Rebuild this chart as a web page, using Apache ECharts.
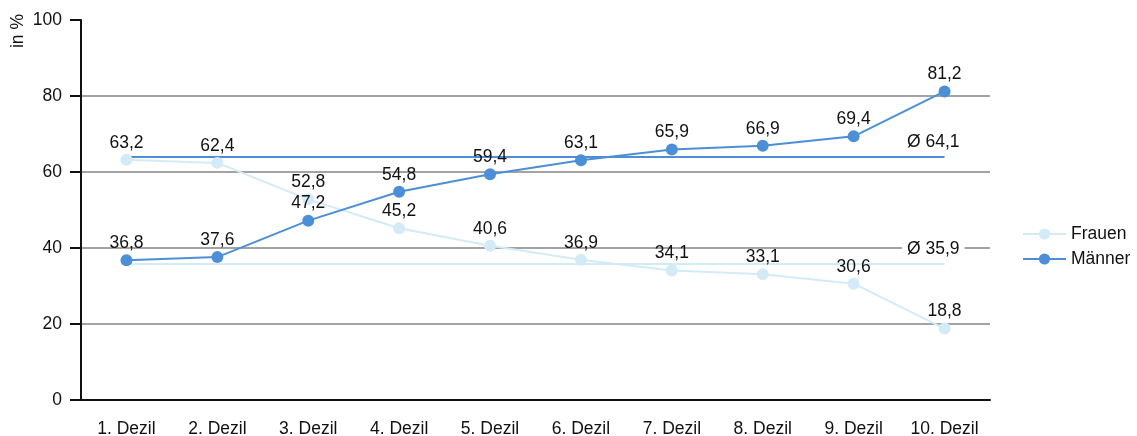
<!DOCTYPE html>
<html>
<head>
<meta charset="utf-8">
<script src="https://cdn.jsdelivr.net/npm/echarts@6/dist/echarts.min.js"></script>
<style>
  html, body { margin: 0; padding: 0; background: #fff; }
  #app { width: 1137px; height: 436px; }
</style>
</head>
<body>
<div id="app"></div>
<script>
var categories = ['1. Dezil', '2. Dezil', '3. Dezil', '4. Dezil', '5. Dezil',
                  '6. Dezil', '7. Dezil', '8. Dezil', '9. Dezil', '10. Dezil'];
var frauen = [63.2, 62.4, 52.8, 45.2, 40.6, 36.9, 34.1, 33.1, 30.6, 18.8];
var maenner = [36.8, 37.6, 47.2, 54.8, 59.4, 63.1, 65.9, 66.9, 69.4, 81.2];
var avgFrauen = 35.9;
var avgMaenner = 64.1;

var FONT = '"Liberation Sans", Arial, sans-serif';
var FS = 17.5;
var colFrauen = '#d3ebf7';
var colMaenner = '#4d8fd6';

function fmt(v) {
    return v.toFixed(1).replace('.', ',');
}

// the average lines start a little right of the first point
function avgLine(value, color, bg, startShift) {
    return {
        silent: true,
        symbol: 'none',
        animation: false,
        z: 1,
        lineStyle: { color: color, width: 2, type: 'solid' },
        label: {
            show: true,
            position: 'insideEndTop',
            distance: 5,
            offset: [25, 0],
            formatter: 'Ø ' + fmt(value),
            color: '#111',
            fontFamily: FONT,
            fontSize: FS,
            backgroundColor: bg,
            padding: [0, 5]
        },
        emphasis: { disabled: true },
        data: [[
            { coord: [startShift, value] },
            { coord: [categories.length - 1.02, value] }
        ]]
    };
}

function pointLabel() {
    return {
        show: true,
        position: 'top',
        distance: 2,
        color: '#111',
        fontFamily: FONT,
        fontSize: FS,
        formatter: function (p) { return fmt(p.value); }
    };
}

var chart = echarts.init(document.getElementById('app'));

chart.setOption({
    animation: false,
    grid: { left: 81, right: 147, top: 20, bottom: 36, containLabel: false, outerBoundsMode: 'none' },
    graphic: [{
        type: 'text',
        x: 18,
        y: 31,
        rotation: Math.PI / 2,
        z: 10,
        style: {
            text: 'in %',
            fill: '#111',
            font: FS + 'px ' + FONT,
            align: 'center',
            verticalAlign: 'middle'
        }
    }],
    legend: {
        orient: 'vertical',
        left: 1017,
        top: 220,
        itemWidth: 43,
        itemHeight: 14,
        itemGap: 7,
        textStyle: { color: '#111', fontFamily: FONT, fontSize: FS },
        data: ['Frauen', 'Männer']
    },
    xAxis: {
        type: 'category',
        data: categories,
        boundaryGap: true,
        axisLine: { lineStyle: { color: '#111', width: 2 } },
        axisTick: { alignWithLabel: true, length: 8, lineStyle: { color: '#111', width: 2 } },
        axisLabel: { color: '#111', fontFamily: FONT, fontSize: FS, margin: 20 },
        splitLine: { show: false }
    },
    yAxis: {
        type: 'value',
        min: 0,
        max: 100,
        interval: 20,
        axisLine: { show: true, lineStyle: { color: '#111', width: 2 } },
        axisTick: { show: true, length: 11, lineStyle: { color: '#111', width: 2 } },
        axisLabel: { color: '#111', fontFamily: FONT, fontSize: FS, margin: 19 },
        splitLine: {
            show: true,
            showMinLine: false,
            showMaxLine: false,
            lineStyle: { color: '#858585', width: 1.5 }
        }
    },
    series: [
        {
            name: 'Frauen',
            type: 'line',
            data: frauen,
            color: colFrauen,
            symbol: 'circle',
            symbolSize: 12,
            lineStyle: { width: 2, color: colFrauen },
            itemStyle: { color: colFrauen },
            label: pointLabel(),
            markLine: avgLine(avgFrauen, colFrauen, '#fff', 0.13),
            z: 2
        },
        {
            name: 'Männer',
            type: 'line',
            data: maenner,
            color: colMaenner,
            symbol: 'circle',
            symbolSize: 12,
            lineStyle: { width: 2, color: colMaenner },
            itemStyle: { color: colMaenner },
            label: pointLabel(),
            markLine: avgLine(avgMaenner, colMaenner, 'transparent', 0.08),
            z: 3
        }
    ]
});
</script>
</body>
</html>
